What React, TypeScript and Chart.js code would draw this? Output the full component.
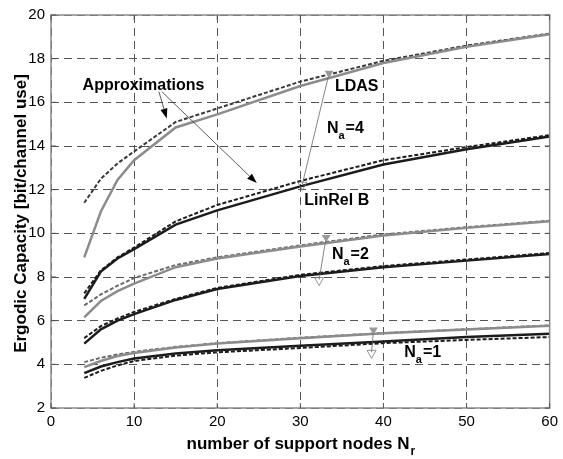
import React, { useEffect, useRef } from "react";
import { Chart, registerables } from "chart.js";

Chart.register(...registerables);

// number of support nodes N_r
const nr = [4, 6, 8, 10, 15, 20, 30, 40, 50, 60];

// N_a = 4
const ldas4 = [8.9, 11.0, 12.45, 13.35, 14.85, 15.45, 16.75, 17.8, 18.55, 19.12];
const ldas4Approx = [11.4, 12.5, 13.2, 13.75, 15.1, 15.72, 16.95, 17.9, 18.6, 19.15];
const linrel4 = [7.0, 8.25, 8.85, 9.28, 10.4, 11.05, 12.15, 13.15, 13.85, 14.44];
const linrel4Approx = [7.25, 8.3, 8.9, 9.35, 10.55, 11.3, 12.4, 13.35, 13.95, 14.5];

// N_a = 2
const ldas2 = [6.15, 6.9, 7.35, 7.7, 8.45, 8.85, 9.4, 9.9, 10.25, 10.55];
const ldas2Approx = [6.7, 7.2, 7.6, 7.95, 8.55, 8.9, 9.45, 9.95, 10.28, 10.58];
const linrel2 = [4.95, 5.6, 6.0, 6.3, 6.95, 7.45, 8.05, 8.45, 8.75, 9.05];
const linrel2Approx = [5.2, 5.75, 6.1, 6.4, 7.0, 7.5, 8.1, 8.5, 8.8, 9.1];

// N_a = 1
const ldas1 = [3.87, 4.15, 4.38, 4.52, 4.77, 4.95, 5.2, 5.42, 5.6, 5.77];
const ldas1Approx = [4.1, 4.3, 4.45, 4.57, 4.8, 4.97, 5.22, 5.43, 5.61, 5.78];
const linrel1 = [3.6, 3.9, 4.1, 4.27, 4.5, 4.65, 4.85, 5.05, 5.25, 5.4];
const linrel1Approx = [3.38, 3.7, 3.95, 4.15, 4.4, 4.55, 4.75, 4.97, 5.12, 5.25];

// axes
const xTicks = [0, 10, 20, 30, 40, 50, 60];
const yTicks = [2, 4, 6, 8, 10, 12, 14, 16, 18, 20];
const xTitle = "number of support nodes N";
const xTitleSub = "r";
const yTitle = "Ergodic Capacity [bit/channel use]";

// annotations (data coordinates)
const approxLabel = { text: "Approximations", x: 3.8, y: 16.58 };
const approxArrows = [
  { x1: 12.98, y1: 16.49, x2: 13.93, y2: 15.26 },
  { x1: 13.33, y1: 16.49, x2: 24.76, y2: 12.3 },
];
const plainLabels = [
  { text: "LDAS", x: 34.17, y: 16.54 },
  { text: "LinRel B", x: 30.48, y: 11.32 },
];
const naLabels = [
  { sub: "a", rest: "=4", x: 33.2, y: 14.58 },
  { sub: "a", rest: "=2", x: 33.8, y: 8.83 },
  { sub: "a", rest: "=1", x: 42.5, y: 4.32 },
];
const brackets = [
  { x1: 33.45, y1: 17.31, x2: 30.24, y2: 12.25 },
  { x1: 33.1, y1: 9.79, x2: 32.26, y2: 7.88 },
  { x1: 38.8, y1: 5.55, x2: 38.57, y2: 4.55 },
];

const GRAY = "#8c8c8c";
const BLACK = "#1c1c1c";
const FONT = '"Liberation Sans", Arial, Helvetica, sans-serif';

function series(vals: number[]) {
  return nr.map((x, i) => ({ x, y: vals[i] }));
}

function ds(label: string, vals: number[], color: string, dashed: boolean) {
  return {
    label,
    data: series(vals),
    borderColor: color,
    backgroundColor: color,
    borderWidth: dashed ? 2 : 2.5,
    borderDash: dashed ? [4, 2] : [],
    pointRadius: 0,
    tension: 0,
    fill: false,
  };
}

const overlay = {
  id: "overlay",
  afterDraw(chart: any) {
    const { ctx, chartArea: a } = chart;
    const xs = chart.scales.x;
    const ys = chart.scales.y;
    const px = (v: number) => xs.getPixelForValue(v);
    const py = (v: number) => ys.getPixelForValue(v);
    ctx.save();

    // frame
    ctx.setLineDash([]);
    ctx.strokeStyle = "#8a8a8a";
    ctx.lineWidth = 1.5;
    ctx.strokeRect(a.left, a.top, a.right - a.left, a.bottom - a.top);

    // inward ticks
    ctx.lineWidth = 1;
    ctx.strokeStyle = "#555";
    ctx.beginPath();
    xTicks.forEach((t) => {
      const X = px(t);
      ctx.moveTo(X, a.bottom);
      ctx.lineTo(X, a.bottom - 5);
      ctx.moveTo(X, a.top);
      ctx.lineTo(X, a.top + 5);
    });
    yTicks.forEach((t) => {
      const Y = py(t);
      ctx.moveTo(a.left, Y);
      ctx.lineTo(a.left + 5, Y);
      ctx.moveTo(a.right, Y);
      ctx.lineTo(a.right - 5, Y);
    });
    ctx.stroke();

    ctx.fillStyle = "#000";
    ctx.textBaseline = "alphabetic";
    ctx.textAlign = "left";

    // x title
    ctx.font = "bold 17px " + FONT;
    const w1 = ctx.measureText(xTitle).width;
    ctx.font = "bold 12px " + FONT;
    const w2 = ctx.measureText(xTitleSub).width;
    const cx = (a.left + a.right) / 2;
    const startX = cx - (w1 + w2) / 2;
    ctx.font = "bold 17px " + FONT;
    ctx.fillText(xTitle, startX, a.bottom + 41);
    ctx.font = "bold 12px " + FONT;
    ctx.fillText(xTitleSub, startX + w1 + 1, a.bottom + 47);

    // y title
    ctx.save();
    ctx.translate(26, (a.top + a.bottom) / 2 + 2);
    ctx.rotate(-Math.PI / 2);
    ctx.font = "bold 17px " + FONT;
    ctx.textAlign = "center";
    ctx.fillText(yTitle, 0, 0);
    ctx.restore();

    // text labels
    ctx.font = "bold 16px " + FONT;
    ctx.fillText(approxLabel.text, px(approxLabel.x), py(approxLabel.y));
    plainLabels.forEach((l) => ctx.fillText(l.text, px(l.x), py(l.y)));
    naLabels.forEach((l) => {
      const X = px(l.x);
      const Y = py(l.y);
      ctx.font = "bold 16px " + FONT;
      ctx.fillText("N", X, Y);
      const wn = ctx.measureText("N").width;
      ctx.font = "bold 11px " + FONT;
      ctx.fillText(l.sub, X + wn, Y + 6);
      const wa = ctx.measureText(l.sub).width;
      ctx.font = "bold 16px " + FONT;
      ctx.fillText(l.rest, X + wn + wa + 1, Y);
    });

    // arrows from "Approximations"
    ctx.strokeStyle = "#333";
    ctx.fillStyle = "#000";
    ctx.lineWidth = 0.8;
    approxArrows.forEach((ar) => {
      const x1 = px(ar.x1), y1 = py(ar.y1), x2 = px(ar.x2), y2 = py(ar.y2);
      const ang = Math.atan2(y2 - y1, x2 - x1);
      const L = 10, W = 3.5;
      const bx = x2 - L * Math.cos(ang), by = y2 - L * Math.sin(ang);
      ctx.beginPath();
      ctx.moveTo(x1, y1);
      ctx.lineTo(bx, by);
      ctx.stroke();
      ctx.beginPath();
      ctx.moveTo(x2, y2);
      ctx.lineTo(bx + W * Math.sin(ang), by - W * Math.cos(ang));
      ctx.lineTo(bx - W * Math.sin(ang), by + W * Math.cos(ang));
      ctx.closePath();
      ctx.fill();
    });

    // brackets with triangle markers
    brackets.forEach((b) => {
      const x1 = px(b.x1), y1 = py(b.y1), x2 = px(b.x2), y2 = py(b.y2);
      ctx.strokeStyle = "#666";
      ctx.lineWidth = 0.8;
      ctx.beginPath();
      ctx.moveTo(x1, y1);
      ctx.lineTo(x2, y2);
      ctx.stroke();
      // top marker: small filled gray triangle pointing down
      ctx.fillStyle = "#999";
      ctx.beginPath();
      ctx.moveTo(x1 - 4.5, y1 - 3);
      ctx.lineTo(x1 + 4.5, y1 - 3);
      ctx.lineTo(x1, y1 + 4);
      ctx.closePath();
      ctx.fill();
      // bottom marker: open triangle pointing down
      ctx.strokeStyle = "#777";
      ctx.beginPath();
      ctx.moveTo(x2 - 4.5, y2 - 2);
      ctx.lineTo(x2 + 4.5, y2 - 2);
      ctx.lineTo(x2, y2 + 6);
      ctx.closePath();
      ctx.stroke();
    });

    ctx.restore();
  },
};

export default function App() {
  const ref = useRef<HTMLCanvasElement | null>(null);

  useEffect(() => {
    if (!ref.current) return;
    const chart = new Chart(ref.current, {
      type: "line",
      data: {
        datasets: [
          ds("LDAS Na=4", ldas4, GRAY, false),
          ds("LDAS Na=4 approx", ldas4Approx, "#3a3a3a", true),
          ds("LinRel Na=4", linrel4, BLACK, false),
          ds("LinRel Na=4 approx", linrel4Approx, BLACK, true),
          ds("LDAS Na=2", ldas2, GRAY, false),
          ds("LDAS Na=2 approx", ldas2Approx, "#6a6a6a", true),
          ds("LinRel Na=2", linrel2, BLACK, false),
          ds("LinRel Na=2 approx", linrel2Approx, BLACK, true),
          ds("LDAS Na=1", ldas1, GRAY, false),
          ds("LDAS Na=1 approx", ldas1Approx, "#6a6a6a", true),
          ds("LinRel Na=1", linrel1, BLACK, false),
          ds("LinRel Na=1 approx", linrel1Approx, BLACK, true),
        ],
      },
      options: {
        responsive: false,
        animation: false,
        devicePixelRatio: 1,
        layout: { padding: { top: 13, right: 8, left: 0, bottom: 0 } },
        plugins: {
          legend: { display: false },
          tooltip: { enabled: false },
        },
        scales: {
          x: {
            type: "linear",
            min: 0,
            max: 60,
            afterFit: (s: any) => {
              s.height = 51;
            },
            afterBuildTicks: (s: any) => {
              s.ticks = xTicks.map((v) => ({ value: v }));
            },
            ticks: {
              color: "#000",
              padding: 5,
              font: { family: FONT, size: 15 },
              maxRotation: 0,
            },
            grid: { color: "#555", lineWidth: 1, drawTicks: false },
            border: { display: false, dash: [8, 5] },
          },
          y: {
            type: "linear",
            min: 2,
            max: 20,
            afterFit: (s: any) => {
              s.width = 51;
            },
            afterBuildTicks: (s: any) => {
              s.ticks = yTicks.map((v) => ({ value: v }));
            },
            ticks: {
              color: "#000",
              padding: 6,
              font: { family: FONT, size: 15 },
            },
            grid: { color: "#555", lineWidth: 1, drawTicks: false },
            border: { display: false, dash: [8, 5] },
          },
        },
      },
      plugins: [overlay],
    } as any);
    return () => chart.destroy();
  }, []);

  return (
    <div style={{ position: "fixed", left: 0, top: 0, width: 563, height: 459, background: "#fff" }}>
      <canvas ref={ref} width={563} height={459} style={{ display: "block" }} />
    </div>
  );
}
